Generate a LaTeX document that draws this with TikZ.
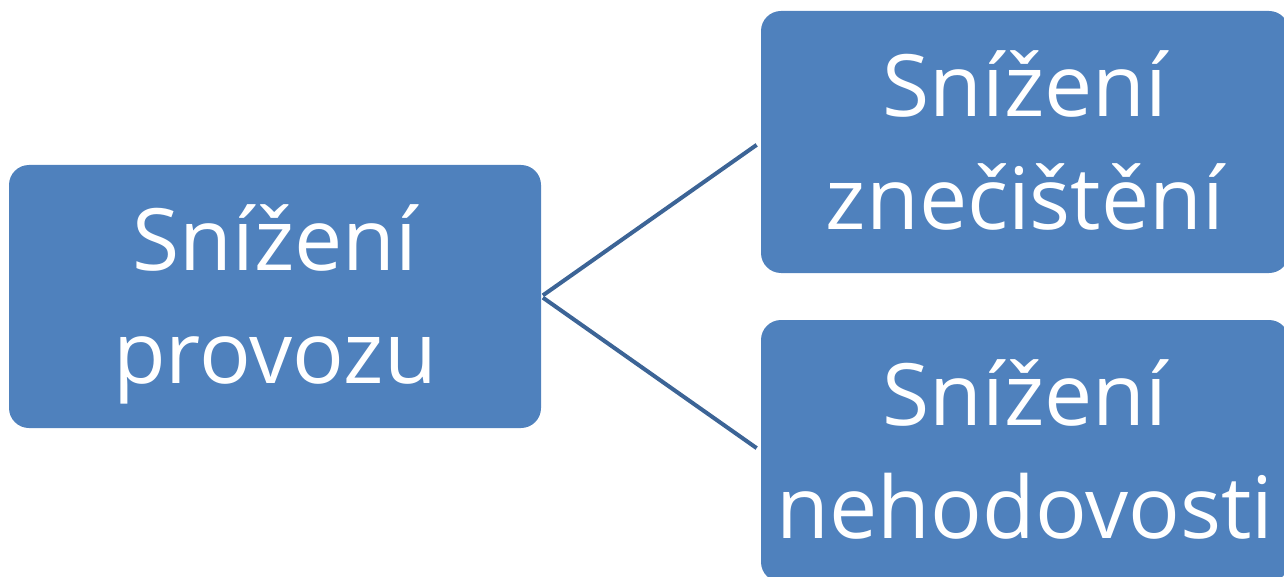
\documentclass[tikz,border=0pt]{standalone}
\usepackage{fontspec}
\setmainfont{Open Sans}
\definecolor{boxblue}{HTML}{4F81BD}
\definecolor{linkblue}{HTML}{3C6496}

\begin{document}
\begin{tikzpicture}[x=0.75pt, y=0.75pt,
    blok/.style={rectangle, rounded corners=15pt, fill=boxblue,
        minimum width=396pt, minimum height=196.5pt, inner sep=0pt},
    napis/.style={text=white, align=center, inner sep=0pt,
        font=\fontsize{64.5}{84.5}\selectfont},
    spoj/.style={draw=linkblue, line width=3pt, shorten <=1.5pt, shorten >=3.75pt}]
    \useasboundingbox (0,0) rectangle (1284,-577);
    \node[blok, minimum width=399pt, minimum height=197.25pt] (provoz) at (275,-296.5) {};
    \node[blok] (znec) at (1025,-142) {};
    \node[blok] (nehod) at (1025,-451) {};
    % same depth for every last line
    \node[napis] (provoz-t) at ([yshift=-11pt]provoz.center) {Snížení\\provozu\strut};
    \node[napis] (znec-t) at ([yshift=-11pt]znec.center) {Snížení\\znečištění\strut};
    \node[napis] (nehod-t) at ([yshift=-11pt]nehod.center) {Snížení\\nehodovosti\strut};
    \draw[spoj] (provoz.east) -- (znec.west);
    \draw[spoj] (provoz.east) -- (nehod.west);
\end{tikzpicture}
\end{document}
